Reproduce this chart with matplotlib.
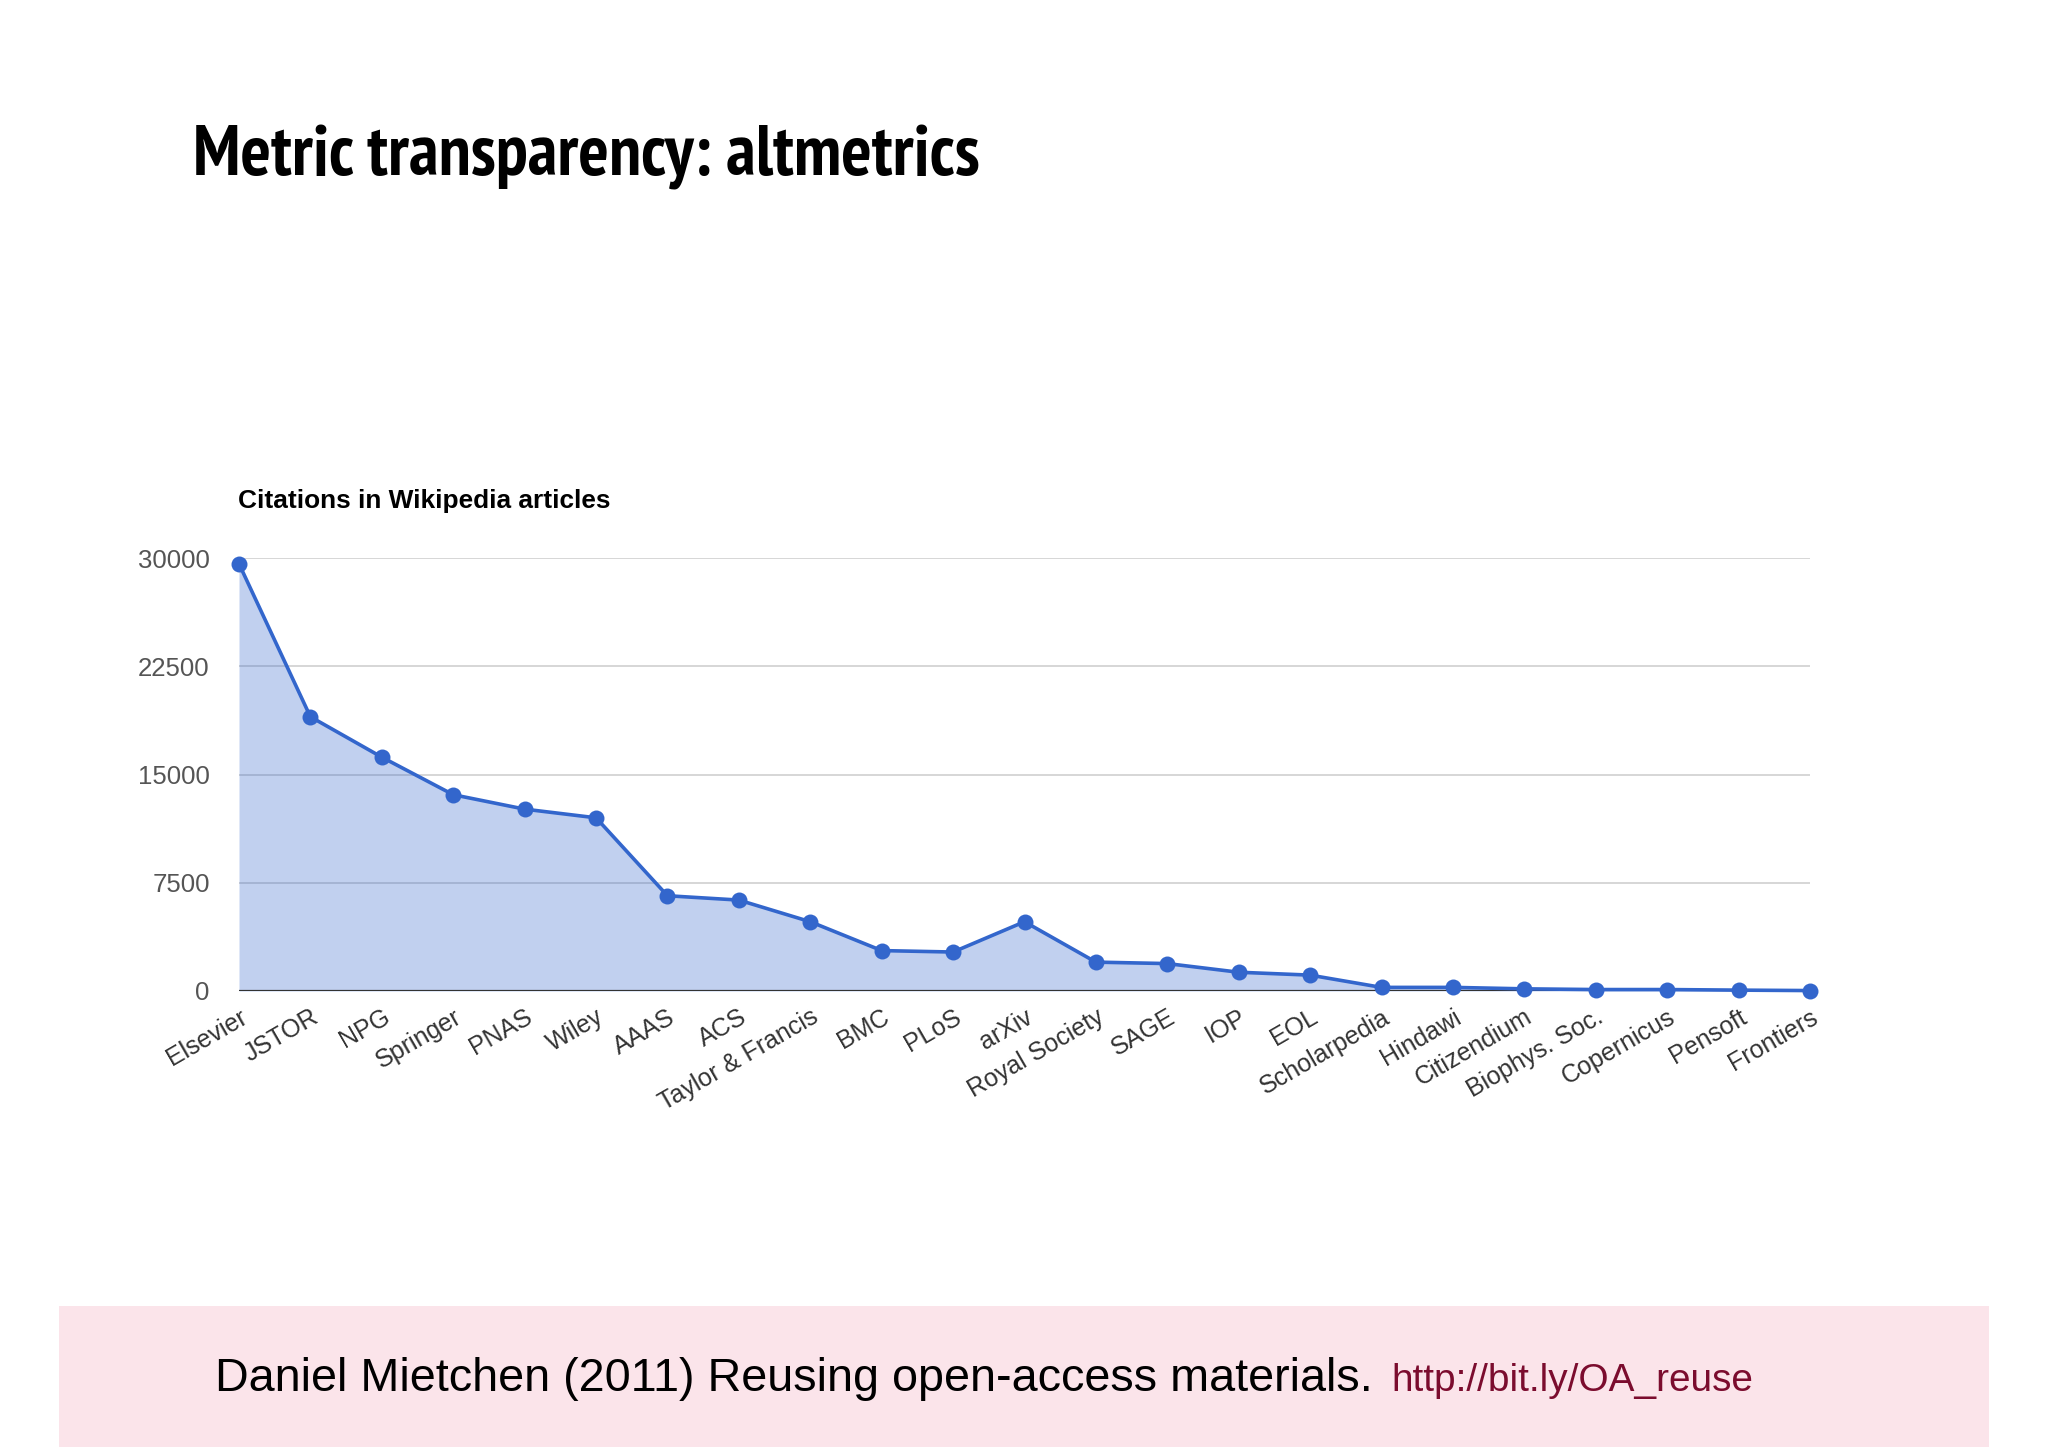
import matplotlib
matplotlib.use("Agg")
import matplotlib.pyplot as plt
from matplotlib import font_manager
import matplotlib.transforms as mtransforms

publishers = ["Elsevier", "JSTOR", "NPG", "Springer", "PNAS", "Wiley", "AAAS", "ACS",
              "Taylor & Francis", "BMC", "PLoS", "arXiv", "Royal Society", "SAGE", "IOP",
              "EOL", "Scholarpedia", "Hindawi", "Citizendium", "Biophys. Soc.",
              "Copernicus", "Pensoft", "Frontiers"]
citations = [29600, 19000, 16200, 13600, 12600, 12000, 6600, 6300,
             4800, 2800, 2700, 4800, 2000, 1900, 1300,
             1100, 250, 250, 150, 100,
             100, 60, 30]
y_ticks = [0, 7500, 15000, 22500, 30000]


def pick(*names):
    for n in names:
        try:
            font_manager.findfont(font_manager.FontProperties(family=n), fallback_to_default=False)
            return n
        except Exception:
            continue
    return "DejaVu Sans"


SANS = pick("Liberation Sans", "Arial", "DejaVu Sans")


def condensed_bold():
    best = None
    for f in font_manager.fontManager.ttflist:
        fn = f.fname.lower()
        if ("condensed" in fn or "narrow" in fn or "cond" in f.name.lower()) and \
                ("bold" in fn or str(f.weight) in ("bold", "700")) and "oblique" not in fn and "italic" not in fn:
            score = 0 if ("narrow" in fn or "roboto" in fn) else 1
            if best is None or score < best[0]:
                best = (score, f.fname)
    if best:
        return font_manager.FontProperties(fname=best[1])
    return font_manager.FontProperties(family=SANS, weight="bold")


W, H = 2048, 1447
fig = plt.figure(figsize=(W / 100, H / 100), dpi=100)
fig.patch.set_facecolor("white")
renderer = fig.canvas.get_renderer()


def fit_width(t, target_px):
    bb = t.get_window_extent(renderer)
    if bb.width > 0:
        t.set_fontsize(t.get_fontsize() * target_px / bb.width)


# footer band
fig.patches.append(plt.Rectangle((59 / W, 0), (1989 - 59) / W, (H - 1306) / H,
                                 transform=fig.transFigure, facecolor="#fbe4ea",
                                 edgecolor="none", zorder=0))

# title
tp = condensed_bold()
title = fig.text(193 / W, 1 - 176 / H, "Metric transparency: altmetrics", ha="left",
                 va="baseline", fontproperties=tp, color="black")
title.set_fontsize(44)
fit_width(title, 787)

left, right = 239 / W, 1810 / W
bottom, top = 1 - 991 / H, 1 - 558 / H
ax = fig.add_axes([left, bottom, right - left, top - bottom])
ax.set_facecolor("none")

x = list(range(len(publishers)))
ax.set_xlim(0, len(publishers) - 1)
ax.set_ylim(0, 30000)

for yt in y_ticks[1:]:
    ax.axhline(yt, color="#cccccc", lw=1.1, zorder=1)
ax.axhline(0, color="#333333", lw=1.6, zorder=4)

ax.fill_between(x, citations, 0, color="#3366cc", alpha=0.3, lw=0, zorder=2)
ax.plot(x, citations, color="#3366cc", lw=2.6, marker="o", markersize=11.5,
        markeredgewidth=0, zorder=5, clip_on=False)

for s in ax.spines.values():
    s.set_visible(False)

ax.set_yticks(y_ticks)
ax.set_yticklabels([str(v) for v in y_ticks])
ax.tick_params(axis="y", length=0, pad=21, labelsize=18.5, labelcolor="#555555")
for lab in ax.get_yticklabels():
    lab.set_family(SANS)

ax.set_xticks(x)
ax.set_xticklabels(publishers)
ax.tick_params(axis="x", length=0, pad=10, labelsize=18, labelcolor="#333333")
offset = mtransforms.ScaledTranslation(0 / 100, 0, fig.dpi_scale_trans)
for lab in ax.get_xticklabels():
    lab.set_family(SANS)
    lab.set_rotation(30)
    lab.set_ha("right")
    lab.set_va("top")
    lab.set_rotation_mode("anchor")
    lab.set_transform(lab.get_transform() + offset)

# chart title
sub = fig.text(238 / W, 1 - 508 / H, "Citations in Wikipedia articles", ha="left", va="baseline",
               fontsize=19, fontweight="bold", color="black", family=SANS)
fit_width(sub, 373)

# footer text
t1 = fig.text(215 / W, 1 - 1391 / H, "Daniel Mietchen (2011) Reusing open-access materials.",
              ha="left", va="baseline", fontsize=33, color="black", family=SANS)
fit_width(t1, 1159)
t2 = fig.text(1391 / W, 1 - 1391 / H, "http://bit.ly/OA_reuse", ha="left", va="baseline",
              fontsize=28, color="#7b0c2e", family=SANS)
fit_width(t2, 362)

fig.savefig("out.png", dpi=100, facecolor="white")
